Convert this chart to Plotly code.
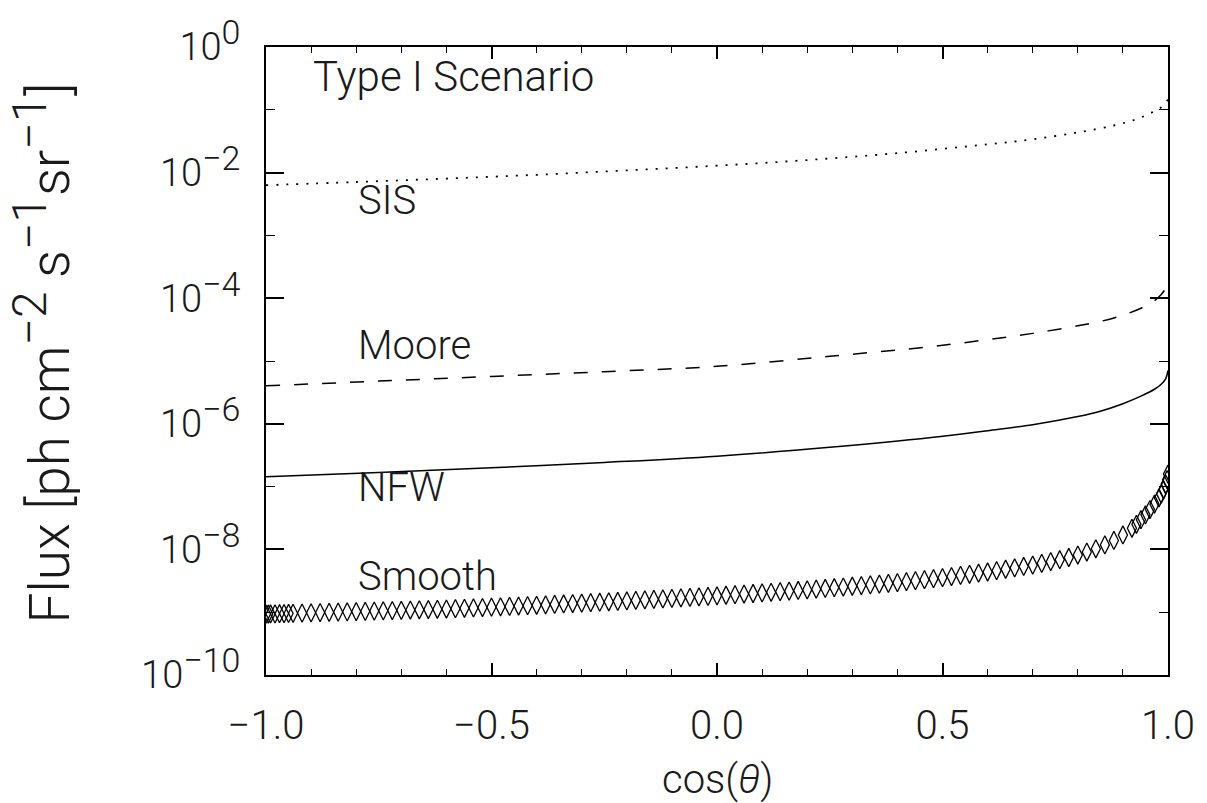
import numpy as np
import plotly.graph_objects as go

# ---- data (log10 of flux) ----
sis_x = [-1.00, -0.80, -0.60, -0.40, -0.20, 0.00, 0.20, 0.40, 0.60, 0.70, 0.80, 0.88, 0.93, 0.965, 0.985, 0.996, 1.00]
sis_log = [-2.20, -2.15, -2.095, -2.035, -1.965, -1.89, -1.80, -1.69, -1.55, -1.47, -1.36, -1.25, -1.15, -1.04, -0.96, -0.87, -0.84]

moore_x = [-1.00, -0.75, -0.50, -0.25, 0.00, 0.25, 0.475, 0.60, 0.70, 0.80, 0.85, 0.90, 0.94, 0.97, 0.985, 0.995, 1.00]
moore_log = [-5.395, -5.32, -5.245, -5.17, -5.085, -4.925, -4.77, -4.66, -4.56, -4.44, -4.37, -4.27, -4.16, -4.04, -3.94, -3.84, -3.74]

nfw_x = [-1.00, -0.75, -0.50, -0.25, 0.00, 0.25, 0.475, 0.60, 0.70, 0.80, 0.85, 0.90, 0.94, 0.97, 0.985, 0.995, 1.00]
nfw_log = [-6.845, -6.775, -6.70, -6.615, -6.515, -6.375, -6.22, -6.11, -6.015, -5.885, -5.80, -5.68, -5.56, -5.45, -5.37, -5.28, -5.15]

smooth_x = [-1.00, -0.995, -0.99, -0.98, -0.97, -0.96, -0.95, -0.94, -0.92, -0.90, -0.88, -0.86, -0.84, -0.82,
            -0.80, -0.78, -0.76, -0.74, -0.72, -0.70, -0.68, -0.66, -0.64, -0.62, -0.60, -0.58, -0.56,
            -0.54, -0.52, -0.50, -0.48, -0.46, -0.44, -0.42, -0.40, -0.38, -0.36, -0.34, -0.32, -0.30,
            -0.28, -0.26, -0.24, -0.22, -0.20, -0.18, -0.16, -0.14, -0.12, -0.10, -0.08, -0.06, -0.04,
            -0.02, 0.00, 0.02, 0.04, 0.06, 0.08, 0.10, 0.12, 0.14, 0.16, 0.18, 0.20, 0.22, 0.24, 0.26,
            0.28, 0.30, 0.32, 0.34, 0.36, 0.38, 0.40, 0.42, 0.44, 0.46, 0.48, 0.50, 0.52, 0.54, 0.56,
            0.58, 0.60, 0.62, 0.64, 0.66, 0.68, 0.70, 0.72, 0.74, 0.76, 0.78, 0.80, 0.82, 0.84, 0.86,
            0.88, 0.90, 0.92, 0.93, 0.94, 0.95, 0.96, 0.97, 0.98, 0.985, 0.99, 0.995, 0.998, 1.00]
smooth_log = [-9.030, -9.029, -9.028, -9.026, -9.024, -9.022, -9.020, -9.018, -9.014, -9.010, -9.006, -9.002, -8.998, -8.994,
              -8.990, -8.986, -8.982, -8.978, -8.974, -8.970, -8.966, -8.962, -8.958, -8.954, -8.950, -8.944, -8.938,
              -8.932, -8.926, -8.920, -8.914, -8.908, -8.902, -8.896, -8.890, -8.883, -8.876, -8.869, -8.862, -8.855,
              -8.848, -8.841, -8.834, -8.827, -8.820, -8.812, -8.804, -8.796, -8.788, -8.780, -8.772, -8.764, -8.756,
              -8.748, -8.740, -8.730, -8.721, -8.711, -8.702, -8.692, -8.683, -8.673, -8.664, -8.654, -8.645, -8.633, -8.622, -8.610,
              -8.599, -8.587, -8.576, -8.564, -8.553, -8.541, -8.530, -8.514, -8.498, -8.482, -8.466, -8.450, -8.432, -8.414, -8.396,
              -8.378, -8.360, -8.338, -8.316, -8.294, -8.272, -8.250, -8.223, -8.195, -8.164, -8.129, -8.090, -8.042, -7.990, -7.928,
              -7.857, -7.770, -7.664, -7.600, -7.527, -7.450, -7.365, -7.280, -7.180, -7.120, -7.050, -6.960, -6.890, -6.800]

labels = ["SIS", "Moore", "NFW", "Smooth"]
label_y_paper = [0.755, 0.525, 0.298, 0.157]

ytick_vals = [1e-10, 1e-8, 1e-6, 1e-4, 1e-2, 1e0]
ytick_exp = ["\u221210", "\u22128", "\u22126", "\u22124", "\u22122", "0"]
yminor_vals = [1e-9, 1e-7, 1e-5, 1e-3, 1e-1]
xtick_vals = [-1.0, -0.5, 0.0, 0.5, 1.0]
xtick_text = ["\u22121.0", "\u22120.5", "0.0", "0.5", "1.0"]

FONT = "Roboto, Liberation Sans, Arial, sans-serif"
TXT = "#1a1a1a"
W = 300

def big_sup(s, px):
    return "<sup><span style='font-size:%dpx'>%s</span></sup>" % (px, s)

ytick_text = ["10" + big_sup(e, 34) for e in ytick_exp]

def tolin(a):
    return np.power(10.0, np.array(a))

fig = go.Figure()
fig.add_trace(go.Scatter(x=sis_x, y=tolin(sis_log), mode="lines", line=dict(color="black", width=1.8, dash="2px,8px", shape="spline"), showlegend=False))
fig.add_trace(go.Scatter(x=moore_x, y=tolin(moore_log), mode="lines", line=dict(color="black", width=1.5, dash="14px,14px", shape="spline"), showlegend=False))
fig.add_trace(go.Scatter(x=nfw_x, y=tolin(nfw_log), mode="lines", line=dict(color="black", width=1.5, shape="spline"), showlegend=False))
fig.add_trace(go.Scatter(x=smooth_x, y=tolin(smooth_log), mode="markers",
                         marker=dict(symbol="diamond-tall-open", size=13, color="black", line=dict(width=1.3, color="black")),
                         showlegend=False))

ann = [dict(x=-0.9, y=0.953, xref="x", yref="paper", text="Type I Scenario", showarrow=False,
            xanchor="left", yanchor="middle", font=dict(family=FONT, size=42, color=TXT, weight=W))]
for t, yp in zip(labels, label_y_paper):
    ann.append(dict(x=-0.8, y=yp, xref="x", yref="paper", text=t, showarrow=False,
                    xanchor="left", yanchor="middle", font=dict(family=FONT, size=40, color=TXT, weight=W)))
ann.append(dict(x=0.5, y=-0.166, xref="paper", yref="paper", text="cos(<i>\u03b8</i>)", showarrow=False,
                xanchor="center", yanchor="middle", font=dict(family=FONT, size=40, color=TXT, weight=W)))
ann.append(dict(x=-0.249, y=0.5125, xref="paper", yref="paper",
                text="Flux [ph cm" + big_sup("\u22122", 48) + " s" + big_sup("\u22121", 48) + "sr" + big_sup("\u22121", 48) + "]",
                showarrow=False, textangle=-90, xanchor="center", yanchor="middle",
                font=dict(family=FONT, size=55, color=TXT, weight=W)))

fig.update_layout(
    width=1207, height=803,
    margin=dict(l=266, r=36, t=35, b=128),
    paper_bgcolor="white", plot_bgcolor="white",
    annotations=ann,
    xaxis=dict(range=[-1.0, 1.0], showgrid=False, zeroline=False, showline=True, linecolor="black", linewidth=2,
               mirror="allticks", ticks="inside", ticklen=12, tickwidth=1.5, tickcolor="black",
               tickvals=xtick_vals, ticktext=xtick_text, ticklabelstandoff=14,
               tickfont=dict(family=FONT, size=40, color=TXT, weight=W),
               minor=dict(ticks="inside", ticklen=6, tickwidth=1.2, tickcolor="black", dtick=0.1, tick0=-1.0, showgrid=False)),
    yaxis=dict(type="log", range=[-10, 0], showgrid=False, zeroline=False, showline=True, linecolor="black", linewidth=2,
               mirror="allticks", ticks="inside", ticklen=18, tickwidth=1.5, tickcolor="black",
               tickvals=ytick_vals, ticktext=ytick_text, ticklabelstandoff=16,
               tickfont=dict(family=FONT, size=38, color=TXT, weight=W),
               minor=dict(ticks="inside", ticklen=9, tickwidth=1.2, tickcolor="black", tickvals=yminor_vals, showgrid=False)),
)

fig.write_html("out.html")
